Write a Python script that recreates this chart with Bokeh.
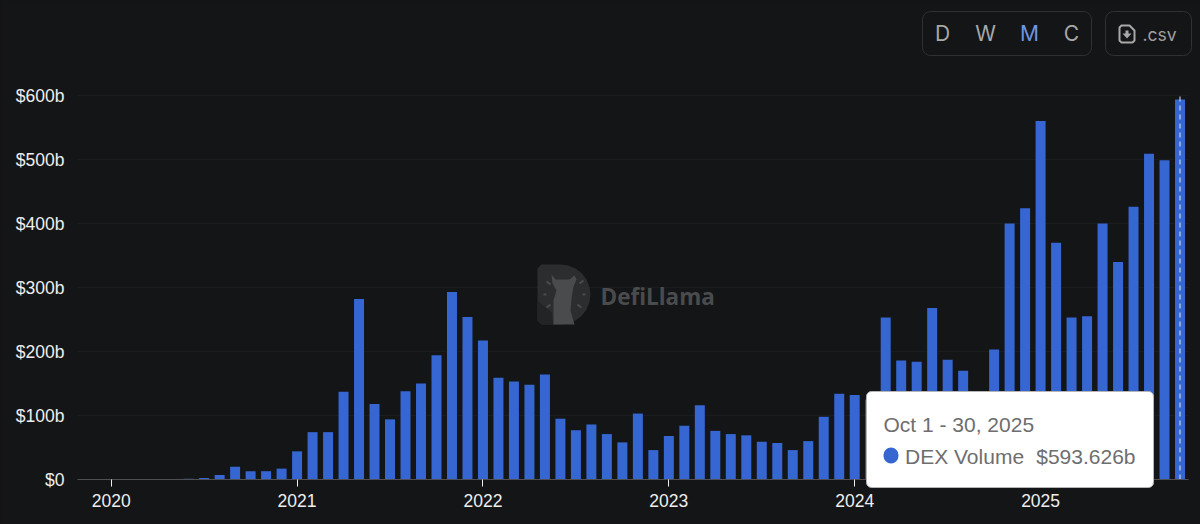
import math
from bokeh.embed import file_html
from bokeh.resources import INLINE
from bokeh.models import (BoxAnnotation, ColumnDataSource, FixedTicker, Grid, Label, LinearAxis,
                          PolyAnnotation, Range1d)
from bokeh.plotting import figure

# Monthly DEX volume, $b, Jan 2020 to Oct 2025
volume_2020 = [0.1, 0.1, 0.1, 0.2, 0.4, 1, 2.5, 7, 20, 13, 13, 17]
volume_2021 = [44, 74, 74, 137, 282, 118, 94, 138, 150, 194, 293, 254]
volume_2022 = [217, 159, 153, 148, 164, 95, 77, 86, 71, 58, 103, 46]
volume_2023 = [68, 84, 116, 76, 71, 69, 59, 57, 46, 60, 98, 134]
volume_2024 = [132, 125, 253, 186, 184, 268, 187, 170, 125, 203, 400, 424]
volume_2025 = [560, 370, 253, 255, 400, 340, 426, 509, 499, 593.626]
year_labels = ["2020", "2021", "2022", "2023", "2024", "2025"]
value_ticks = [0, 100, 200, 300, 400, 500, 600]
value_labels = ["$0", "$100b", "$200b", "$300b", "$400b", "$500b", "$600b"]
range_buttons = ["D", "W", "M", "C"]

volume = volume_2020 + volume_2021 + volume_2022 + volume_2023 + volume_2024 + volume_2025
month_index = list(range(len(volume)))
year_ticks = [12 * i for i in range(len(year_labels))]

BG = "#141517"
W, H = 1200, 524
FONT = "Liberation Sans"

# Screen layout of the plot area: the frame fills the page, the axes sit inside it
PX_PER_MONTH = 15.49
X_ZERO = 110.7
PX_PER_B = 0.64
Y_ZERO = 479
x_start = -X_ZERO / PX_PER_MONTH
x_end = (W - X_ZERO) / PX_PER_MONTH
y_start = -(H - Y_ZERO) / PX_PER_B
y_end = Y_ZERO / PX_PER_B
axis_left = (77 - X_ZERO) / PX_PER_MONTH
axis_right = (1188 - X_ZERO) / PX_PER_MONTH

p = figure(width=W, height=H, output_backend="svg", toolbar_location=None,
           x_range=Range1d(x_start, x_end), y_range=Range1d(y_start, y_end),
           x_axis_location=None, y_axis_location=None,
           min_border=0,
           background_fill_color=BG, border_fill_color=BG, outline_line_color=None)
p.grid.visible = False

p.add_layout(Grid(dimension=1, ticker=FixedTicker(ticks=value_ticks),
                  grid_line_color="#1b1c1f", grid_line_width=1,
                  cross_bounds=(axis_left, axis_right)))

y_axis = LinearAxis(fixed_location=axis_left, ticker=FixedTicker(ticks=value_ticks),
                    major_label_overrides=dict(zip(value_ticks, value_labels)),
                    axis_line_color=None, major_tick_line_color=None, minor_tick_line_color=None,
                    major_label_standoff=7, major_label_text_color="#eeeeee",
                    major_label_text_font=FONT, major_label_text_font_size="17.5px")
p.add_layout(y_axis, "left")

x_axis = LinearAxis(fixed_location=0, ticker=FixedTicker(ticks=year_ticks),
                    major_label_overrides=dict(zip(year_ticks, year_labels)),
                    bounds=(axis_left, axis_right),
                    axis_line_color="#4f5053", major_tick_line_color="#eeeeee",
                    major_tick_out=7, major_tick_in=0, minor_tick_line_color=None,
                    major_label_standoff=7, major_label_text_color="#eeeeee",
                    major_label_text_font=FONT, major_label_text_font_size="17.5px")
p.add_layout(x_axis, "below")


def box(x0, y0, x1, y1, fill=None, line=None, radius=0, lw=1, level="annotation"):
    p.add_layout(BoxAnnotation(left=x0, right=x1, top=y0, bottom=y1,
                               left_units="canvas", right_units="canvas",
                               top_units="canvas", bottom_units="canvas",
                               fill_color=fill, fill_alpha=1 if fill else 0,
                               line_color=line, line_alpha=1 if line else 0, line_width=lw,
                               border_radius=radius, level=level, editable=False))


def poly(pts, fill=None, line=None, lw=1, level="underlay"):
    p.add_layout(PolyAnnotation(xs=[a for a, _ in pts], ys=[b for _, b in pts],
                                xs_units="canvas", ys_units="canvas",
                                fill_color=fill, fill_alpha=1 if fill else 0,
                                line_color=line, line_alpha=1 if line else 0, line_width=lw,
                                level=level, editable=False))


def text(x, y, s, size, color, align="left", font=FONT, style="normal"):
    p.add_layout(Label(x=x, y=y, x_units="canvas", y_units="canvas", text=s,
                       text_font=font, text_font_size=f"{size}px", text_color=color,
                       text_align=align, text_baseline="middle", text_font_style=style,
                       level="overlay"))


# Watermark
d_shape = [(541, 264), (560, 264)]
d_shape += [(560 + 30 * math.sin(a / 12 * math.pi), 294 - 30 * math.cos(a / 12 * math.pi)) for a in range(1, 13)]
d_shape += [(541, 324), (537, 320), (537, 268)]
poly(d_shape, fill="#2c2d2f")
poly([(537, 300), (551, 312), (553, 324), (541, 324), (537, 320)], fill="#232426")
poly([(551, 274), (555, 279), (569, 279), (574, 275), (576, 279), (573, 286), (571, 298), (570, 310),
      (574, 324), (553, 324), (553, 300), (556, 290), (552, 283)], fill="#4a4b4d")
for a, b, c, d in [(546, 281, 550, 284), (579, 283, 583, 280), (543, 294, 546, 294), (582, 294, 585, 294),
                   (546, 307, 550, 304), (577, 304, 581, 307)]:
    poly([(a, b), (c, d)], line="#4a4b4d", lw=2)
p.add_layout(Label(x=600, y=296, x_units="canvas", y_units="canvas", text="DefiLlama",
                   text_font="Open Sans", text_font_size="22.5px", text_font_style="bold",
                   text_color="#4a4b4d", text_baseline="middle", level="underlay"))

# Bars and the hover line
source = ColumnDataSource(dict(month=month_index, volume=volume))
p.vbar(x="month", top="volume", bottom=0, width=0.645, source=source,
       fill_color="#3566d2", line_color=None)
last = month_index[-1]
p.line(x=[last, last], y=[0, value_ticks[-1]], line_color="#dfe6f5",
       line_width=1, line_dash=[5, 4])

# Buttons
box(922, 11, 1091, 55, line="#303134", radius=8)
box(1105, 11, 1191, 55, line="#303134", radius=8)
for name, bx in zip(range_buttons, [942, 985, 1029, 1071]):
    text(bx, 33, name, 21, "#6f95e0" if name == "M" else "#a8a8a8", align="center", font="Inter")
text(1142, 34, ".csv", 17.5, "#a0a0a0", font="Inter")
icon = [(1121, 25), (1129, 25), (1134, 30), (1134, 40), (1132, 42), (1121, 42), (1119, 40), (1119, 27)]
poly(icon, line="#a8a8a8", lw=2, level="overlay")
poly([(1125, 30), (1128, 30), (1128, 33), (1131, 33), (1126.5, 38), (1122, 33), (1125, 33)],
     fill="#a8a8a8", level="overlay")

# Tooltip
box(866, 391, 1153, 487, fill="#ffffff", line="#b5b5b5", radius=5, lw=1)
box(883, 447, 898, 463, fill="#3566d2", radius=8, level="overlay")
text(883, 424, "Oct 1 - 30, 2025", 21, "#6e6e6e")
text(904.5, 456, "DEX Volume", 21, "#6e6e6e")
text(1135, 456, "$593.626b", 21, "#6e6e6e", align="right")

html = file_html(p, INLINE)
html = html.replace("</head>", f"<style>html,body{{background:{BG};overflow:hidden}}</style></head>", 1)
open("out.html", "w").write(html)
